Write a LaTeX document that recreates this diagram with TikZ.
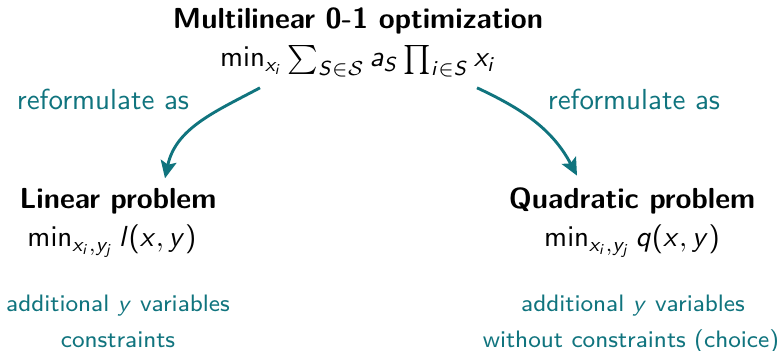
\documentclass[tikz,border=0pt]{standalone}
\usepackage{amsmath}
\usetikzlibrary{arrows.meta}
\renewcommand\familydefault{\sfdefault}
% sans-serif math letters and operators, slide style
\DeclareSymbolFont{sfletters}{OT1}{cmss}{m}{sl}
\SetSymbolFont{operators}{normal}{OT1}{cmss}{m}{n}
\newcommand\sfletter[1]{\DeclareMathSymbol{#1}{\mathalpha}{sfletters}{`#1}}
\sfletter a\sfletter i\sfletter j\sfletter l\sfletter q\sfletter x\sfletter y\sfletter S
\definecolor{tealc}{RGB}{16,116,126}
\tikzset{
  txt/.style={anchor=base, inner sep=0pt, font=\normalsize},
  head/.style={txt, font=\normalsize\bfseries},
  note/.style={txt, text=tealc},
  smallnote/.style={note, font=\fontsize{8.2}{10}\selectfont},
  reform/.style={draw=tealc, line width=1pt, -{Stealth[length=6pt,width=5.5pt,inset=1.2pt]}},
}
\begin{document}
\begin{tikzpicture}[x=0.345pt,y=-0.345pt]
\useasboundingbox (0,0) rectangle (777,351);
% source problem
\node[head] (top)  at (358,29) {Multilinear 0-1 optimization};
\node[txt]  (topf) at (358,67) {$\min_{x_i} \sum_{S\in\mathcal{S}} a_S \prod_{i\in S} x_i$};
% reformulation labels
\node[note] (rl) at (103,110) {reformulate as};
\node[note] (rr) at (634,110) {reformulate as};
% linear target
\node[head] (lin)  at (118,209) {Linear problem};
\node[txt]  (linf) at (112,247) {$\min_{x_i,y_j} l(x,y)$};
\node[smallnote] (lin1) at (118,311) {additional $y$ variables};
\node[smallnote] (lin2) at (118,347) {constraints};
% quadratic target
\node[head] (quad)  at (632,209) {Quadratic problem};
\node[txt]  (quadf) at (632,247) {$\min_{x_i,y_j} q(x,y)$};
\node[smallnote] (quad1) at (633,311) {additional $y$ variables};
\node[smallnote] (quad2) at (631,347) {without constraints (choice)};
% arrow end points
\coordinate (ls) at ([shift={(-98,10)}]topf.south);
\coordinate (le) at ([shift={(47,-10)}]lin.north);
\coordinate (rs) at ([shift={(119,10)}]topf.south);
\coordinate (re) at ([shift={(-55,-12)}]quad.north);
\draw[reform] (ls) to[out=208,in=78] (le);
\draw[reform] (rs) to[out=-25,in=118] (re);
\end{tikzpicture}
\end{document}
